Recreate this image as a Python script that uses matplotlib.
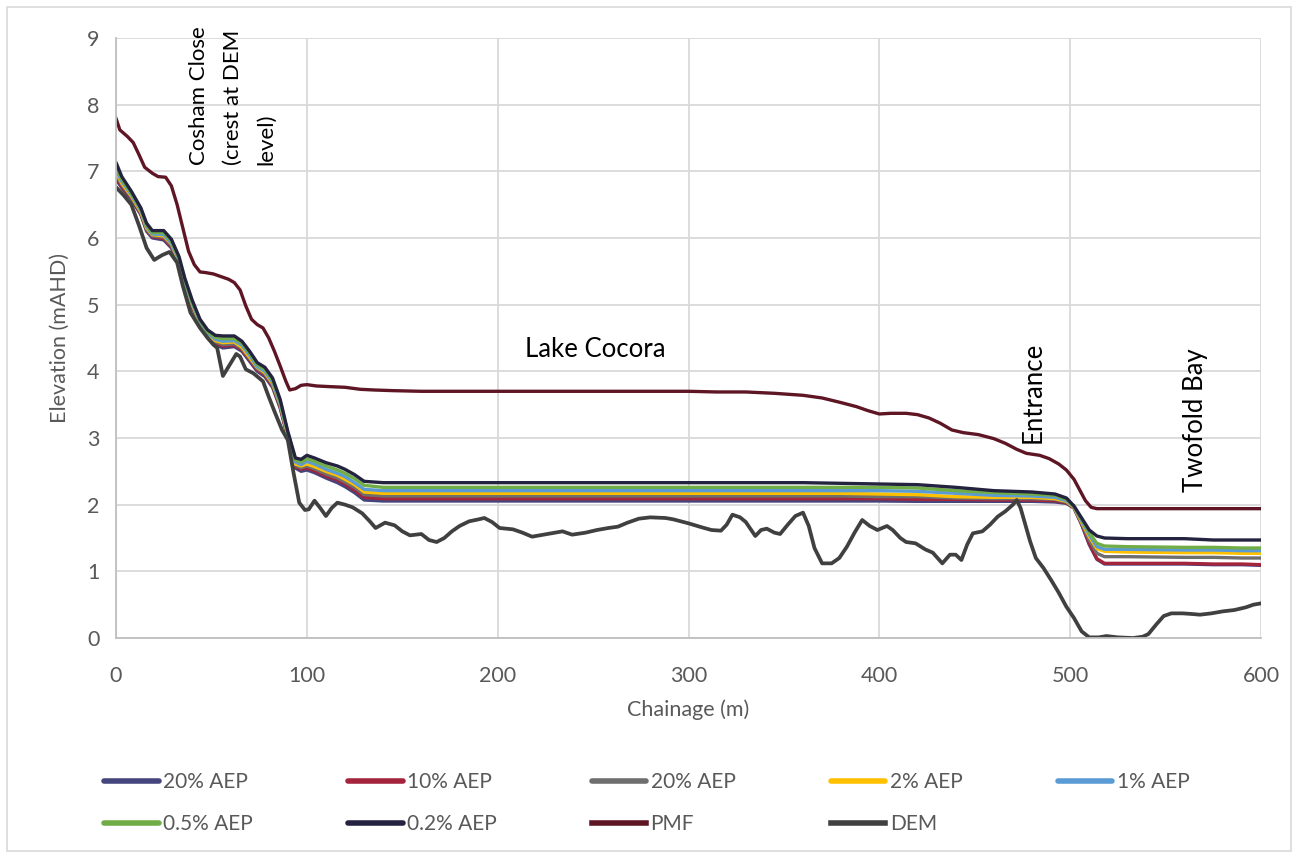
import numpy as np
import matplotlib.pyplot as plt
from matplotlib.patches import Rectangle

plt.rcParams['font.family'] = ['Lato', 'DejaVu Sans']

# chainage for the flood level profiles (m)
ch = [0, 3, 8, 13, 16, 19, 25, 29, 33, 36, 40, 44, 48, 52, 56, 62, 66, 70, 74, 78,
      82, 86, 90, 94, 97, 100, 104, 110, 116, 120, 125, 130, 140, 200, 300, 360,
      380, 400, 420, 440, 460, 480, 492, 498, 502, 506, 510, 514, 518, 530, 560,
      575, 590, 600]

aep20 = [6.88, 6.75, 6.58, 6.35, 6.10, 6.00, 5.97, 5.85, 5.60, 5.28, 4.95, 4.68, 4.50, 4.40,
         4.35, 4.37, 4.30, 4.15, 4.00, 3.92, 3.76, 3.45, 3.00, 2.55, 2.50, 2.52, 2.48, 2.40,
         2.33, 2.27, 2.18, 2.07, 2.055, 2.055, 2.055, 2.055, 2.055, 2.055, 2.05, 2.05, 2.05,
         2.05, 2.04, 2.02, 1.95, 1.70, 1.40, 1.18, 1.11, 1.11, 1.11, 1.10, 1.10, 1.09]
aep10 = [6.92, 6.77, 6.60, 6.36, 6.12, 6.02, 5.99, 5.87, 5.62, 5.30, 4.97, 4.69, 4.52, 4.42,
         4.38, 4.39, 4.32, 4.17, 4.02, 3.94, 3.78, 3.47, 3.01, 2.57, 2.53, 2.55, 2.51, 2.43,
         2.37, 2.31, 2.22, 2.11, 2.09, 2.09, 2.09, 2.09, 2.09, 2.09, 2.08, 2.08, 2.07, 2.07,
         2.06, 2.03, 1.95, 1.71, 1.42, 1.19, 1.12, 1.12, 1.12, 1.11, 1.11, 1.10]
aep5 = [6.95, 6.80, 6.61, 6.38, 6.13, 6.03, 6.01, 5.89, 5.63, 5.31, 4.98, 4.71, 4.53, 4.44,
        4.40, 4.41, 4.34, 4.19, 4.04, 3.96, 3.80, 3.49, 3.03, 2.59, 2.55, 2.58, 2.54, 2.46,
        2.40, 2.34, 2.26, 2.15, 2.13, 2.13, 2.13, 2.13, 2.13, 2.12, 2.12, 2.10, 2.09, 2.09,
        2.08, 2.04, 1.96, 1.72, 1.47, 1.27, 1.22, 1.22, 1.21, 1.21, 1.20, 1.20]
aep2 = [6.99, 6.82, 6.63, 6.39, 6.15, 6.05, 6.03, 5.91, 5.65, 5.33, 5.00, 4.72, 4.55, 4.46,
        4.43, 4.44, 4.36, 4.21, 4.06, 3.98, 3.82, 3.51, 3.04, 2.61, 2.58, 2.61, 2.57, 2.50,
        2.44, 2.38, 2.30, 2.19, 2.17, 2.17, 2.17, 2.17, 2.17, 2.16, 2.15, 2.12, 2.11, 2.11,
        2.09, 2.05, 1.96, 1.74, 1.52, 1.34, 1.30, 1.29, 1.28, 1.28, 1.27, 1.27]
aep1 = [7.02, 6.85, 6.65, 6.41, 6.17, 6.06, 6.05, 5.92, 5.67, 5.35, 5.01, 4.74, 4.57, 4.48,
        4.45, 4.46, 4.39, 4.24, 4.07, 4.00, 3.84, 3.52, 3.06, 2.64, 2.60, 2.65, 2.61, 2.53,
        2.47, 2.42, 2.33, 2.23, 2.21, 2.21, 2.21, 2.21, 2.21, 2.21, 2.20, 2.17, 2.14, 2.13,
        2.11, 2.06, 1.97, 1.76, 1.55, 1.37, 1.33, 1.33, 1.32, 1.32, 1.31, 1.31]
aep05 = [7.07, 6.88, 6.67, 6.43, 6.19, 6.08, 6.08, 5.95, 5.69, 5.37, 5.03, 4.76, 4.59, 4.51,
         4.49, 4.49, 4.42, 4.27, 4.10, 4.03, 3.87, 3.55, 3.08, 2.67, 2.64, 2.69, 2.65, 2.58,
         2.52, 2.47, 2.39, 2.29, 2.26, 2.26, 2.26, 2.26, 2.26, 2.26, 2.25, 2.21, 2.18, 2.16,
         2.14, 2.08, 1.97, 1.78, 1.58, 1.42, 1.38, 1.37, 1.36, 1.36, 1.35, 1.35]
aep02 = [7.13, 6.92, 6.70, 6.45, 6.22, 6.11, 6.11, 5.98, 5.72, 5.40, 5.06, 4.78, 4.62, 4.54,
         4.53, 4.53, 4.45, 4.30, 4.13, 4.06, 3.90, 3.58, 3.10, 2.70, 2.68, 2.74, 2.70, 2.63,
         2.58, 2.53, 2.45, 2.35, 2.33, 2.33, 2.33, 2.33, 2.32, 2.31, 2.30, 2.26, 2.21, 2.19,
         2.16, 2.10, 1.98, 1.80, 1.62, 1.53, 1.50, 1.49, 1.49, 1.47, 1.47, 1.47]

pmf_ch = [0, 2, 6, 9, 12, 15, 19, 22, 26, 29, 32, 35, 38, 41, 44, 47, 51, 55, 59, 62, 65,
          68, 71, 74, 77, 80, 83, 86, 89, 91, 94, 97, 100, 105, 112, 120, 128, 135, 145,
          160, 200, 300, 315, 330, 345, 360, 370, 380, 388, 394, 400, 406, 414, 420, 426,
          432, 438, 444, 452, 460, 466, 472, 477, 484, 489, 494, 498, 502, 505, 508, 511,
          514, 600]
pmf = [7.79, 7.62, 7.52, 7.43, 7.25, 7.06, 6.97, 6.92, 6.91, 6.78, 6.50, 6.15, 5.80, 5.60,
       5.49, 5.48, 5.46, 5.42, 5.38, 5.33, 5.22, 4.98, 4.78, 4.70, 4.65, 4.50, 4.30, 4.08,
       3.85, 3.72, 3.74, 3.79, 3.80, 3.78, 3.77, 3.76, 3.73, 3.72, 3.71, 3.70, 3.70, 3.70,
       3.69, 3.69, 3.67, 3.64, 3.60, 3.53, 3.47, 3.41, 3.36, 3.37, 3.37, 3.35, 3.30, 3.22,
       3.12, 3.08, 3.05, 2.99, 2.92, 2.83, 2.77, 2.74, 2.69, 2.61, 2.52, 2.38, 2.22, 2.06,
       1.96, 1.94, 1.94]

dem_ch = [0, 4, 8, 12, 16, 20, 24, 28, 32, 35, 39, 44, 48, 51, 53, 56, 60, 63, 65, 68, 72,
          77, 80, 83, 87, 90, 93, 96, 99, 101, 104, 107, 110, 113, 116, 120, 124, 129, 133,
          136, 141, 146, 150, 154, 160, 164, 168, 172, 176, 180, 185, 190, 193, 197, 201,
          208, 213, 218, 224, 230, 234, 239, 246, 252, 258, 263, 268, 274, 280, 288, 292,
          300, 307, 312, 317, 320, 323, 327, 330, 335, 338, 341, 345, 348, 352, 356, 360,
          363, 366, 370, 375, 379, 383, 387, 391, 395, 399, 404, 407, 411, 414, 419, 424,
          428, 433, 437, 440, 443, 446, 449, 454, 458, 462, 466, 470, 472, 474, 476, 479,
          482, 486, 490, 494, 498, 502, 506, 510, 515, 519, 525, 533, 538, 541, 545, 549,
          553, 559, 564, 568, 574, 580, 586, 592, 596, 600]
dem = [6.76, 6.64, 6.50, 6.19, 5.85, 5.67, 5.74, 5.79, 5.63, 5.28, 4.88, 4.65, 4.50, 4.40,
       4.35, 3.93, 4.12, 4.26, 4.22, 4.03, 3.97, 3.85, 3.62, 3.40, 3.12, 2.97, 2.48, 2.03,
       1.92, 1.93, 2.06, 1.95, 1.83, 1.95, 2.03, 2.00, 1.96, 1.87, 1.75, 1.65, 1.73, 1.69,
       1.60, 1.54, 1.56, 1.47, 1.44, 1.50, 1.60, 1.68, 1.75, 1.78, 1.80, 1.74, 1.65, 1.63,
       1.58, 1.52, 1.55, 1.58, 1.60, 1.55, 1.58, 1.62, 1.65, 1.67, 1.73, 1.79, 1.81, 1.80,
       1.78, 1.72, 1.66, 1.62, 1.61, 1.70, 1.85, 1.81, 1.74, 1.53, 1.62, 1.64, 1.58, 1.56,
       1.70, 1.83, 1.88, 1.68, 1.35, 1.12, 1.12, 1.20, 1.37, 1.58, 1.77, 1.68, 1.62, 1.68,
       1.62, 1.50, 1.44, 1.42, 1.33, 1.28, 1.12, 1.25, 1.25, 1.17, 1.40, 1.57, 1.60, 1.70,
       1.82, 1.90, 2.00, 2.07, 1.95, 1.75, 1.45, 1.20, 1.05, 0.87, 0.68, 0.47, 0.30, 0.10,
       0.01, 0.01, 0.03, 0.01, 0.00, 0.02, 0.06, 0.20, 0.33, 0.37, 0.37, 0.36, 0.35, 0.37,
       0.40, 0.42, 0.46, 0.50, 0.52]

labels = ["20% AEP", "10% AEP", "20% AEP", "2% AEP", "1% AEP",
          "0.5% AEP", "0.2% AEP", "PMF", "DEM"]
colors = ["#45457D", "#A3243B", "#6E6E6E", "#FFC000", "#5B9BD5",
          "#70AD47", "#23233F", "#5E1624", "#404040"]

fig = plt.figure(figsize=(12.98, 8.57), dpi=100)
ax = fig.add_axes([0.0894, 0.2555, 0.8821, 0.7003])

# light chart border
fig.patches.append(Rectangle((7 / 1298, 6 / 857), 1284 / 1298, 844 / 857,
                             transform=fig.transFigure, fill=False,
                             edgecolor="#D9D9D9", linewidth=1.2))

series = [aep20, aep10, aep5, aep2, aep1, aep05, aep02]
lines = []
for vals, lab, col in zip(series, labels[:7], colors[:7]):
    lines += ax.plot(ch, vals, color=col, lw=2.4, label=lab, solid_capstyle="round")
lines += ax.plot(pmf_ch, pmf, color=colors[7], lw=2.4, label=labels[7])
lines += ax.plot(dem_ch, dem, color=colors[8], lw=2.7, label=labels[8])

ax.set_xlim(0, 600)
ax.set_ylim(0, 9)
ax.set_xticks(range(0, 601, 100))
ax.set_yticks(range(0, 10))
ax.grid(True, color="#D9D9D9", lw=1.3)
ax.set_axisbelow(True)
for s in ["top", "right"]:
    ax.spines[s].set_visible(False)
for s in ["left", "bottom"]:
    ax.spines[s].set_color("#BFBFBF")
    ax.spines[s].set_linewidth(1.3)
ax.tick_params(length=0, labelsize=15.5, labelcolor="#595959")
ax.tick_params(axis="x", pad=20)
ax.tick_params(axis="y", pad=12)

ax.set_xlabel("Chainage (m)", fontsize=15.5, color="#595959", labelpad=10)
ax.set_ylabel("Elevation (mAHD)", fontsize=15.5, color="#595959", labelpad=12)

# annotations
ax.text(61, 7.1, "Cosham Close\n(crest at DEM\nlevel)", rotation=90, ha="center",
        va="bottom", multialignment="left", fontsize=16, linespacing=1.85)
ax.text(251, 4.32, "Lake Cocora", ha="center", va="center", fontsize=18.5)
ax.text(480.6, 2.93, "Entrance", rotation=90, ha="center", va="bottom", fontsize=18.5)
ax.text(565.5, 2.19, "Twofold Bay", rotation=90, ha="center", va="bottom", fontsize=18.5)

# legend filled row by row (matplotlib fills by column)
order = [0, 5, 1, 6, 2, 7, 3, 8, 4]
leg = fig.legend([lines[i] for i in order], [labels[i] for i in order],
                 loc="upper left", bbox_to_anchor=(0.066, 0.121), ncol=5,
                 frameon=False, fontsize=15, handlelength=2.6, handletextpad=0.2,
                 columnspacing=4.6, labelspacing=1.05)
for t in leg.get_texts():
    t.set_color("#595959")
for h in leg.get_lines():
    h.set_linewidth(4)

fig.savefig("out.png", dpi=100)
